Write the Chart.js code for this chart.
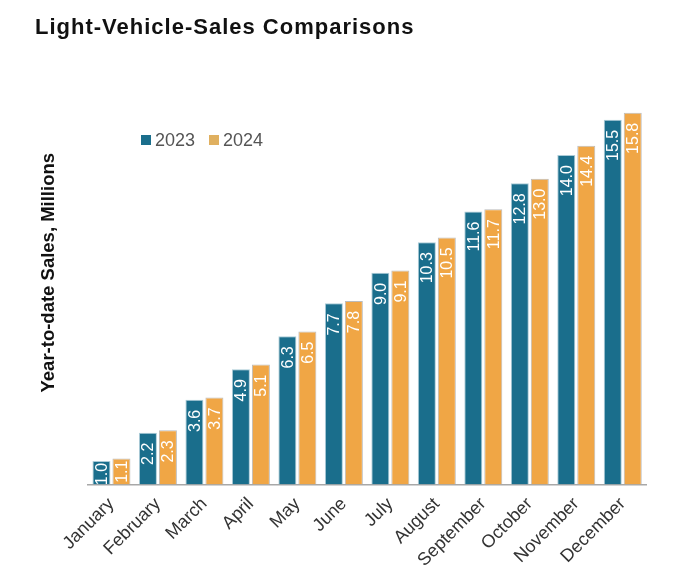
<!DOCTYPE html>
<html>
<head>
<meta charset="utf-8">
<script src="https://cdn.jsdelivr.net/npm/chart.js@4/dist/chart.umd.min.js"></script>
<style>
  html, body { margin: 0; padding: 0; background: #fff; }
  #wrap { position: relative; width: 700px; height: 582px; overflow: hidden; }
  #title { position: absolute; left: 35px; top: 14px; font-family: "Liberation Sans", Arial, sans-serif; font-weight: bold; font-size: 22px; letter-spacing: 1px; color: #111; white-space: nowrap; }
  #legend { position: absolute; left: 141px; top: 130px; font-family: "Liberation Sans", Arial, sans-serif; font-size: 18px; color: #555; white-space: nowrap; }
  .item { display: inline-block; margin-right: 14px; }
  .sw { display: inline-block; width: 10px; height: 10px; margin-right: 4px; vertical-align: 1px; }
  #c { position: absolute; left: 0; top: 0; }
</style>
</head>
<body>
<div id="wrap">
  <canvas id="c" width="700" height="582"></canvas>
  <div id="title">Light-Vehicle-Sales Comparisons</div>
  <div id="legend">
    <span class="item"><span class="sw" style="background:#1a6e8c"></span>2023</span><span class="item"><span class="sw" style="background:#e0b060"></span>2024</span>
  </div>
</div>
<script>
const months = ["January","February","March","April","May","June","July","August","September","October","November","December"];
const sales2023 = [1.0, 2.2, 3.6, 4.9, 6.3, 7.7, 9.0, 10.3, 11.6, 12.8, 14.0, 15.5];
const sales2024 = [1.1, 2.3, 3.7, 5.1, 6.5, 7.8, 9.1, 10.5, 11.7, 13.0, 14.4, 15.8];
const seriesNames = ["2023", "2024"];

const valueLabels = {
  id: 'valueLabels',
  afterDatasetsDraw(chart) {
    const ctx = chart.ctx;
    ctx.save();
    ctx.font = '16px "Liberation Sans", Arial, sans-serif';
    ctx.fillStyle = '#ffffff';
    ctx.textBaseline = 'middle';
    ctx.textAlign = 'right';
    chart.data.datasets.forEach((ds, di) => {
      const meta = chart.getDatasetMeta(di);
      meta.data.forEach((bar, i) => {
        const txt = ds.data[i].toFixed(1);
        const w = ctx.measureText(txt).width;
        const h = bar.base - bar.y;
        let off = 10;
        if (h < w + 2 * off) off = Math.max(2, (h - w) / 2);
        ctx.save();
        ctx.translate(bar.x, bar.y + off);
        ctx.rotate(-Math.PI / 2);
        ctx.fillText(txt, 0, 1);
        ctx.restore();
      });
    });
    ctx.restore();
  }
};

new Chart(document.getElementById('c'), {
  type: 'bar',
  data: {
    labels: months,
    datasets: [
      { label: seriesNames[0], data: sales2023, backgroundColor: '#1a6e8c', borderColor: 'rgba(150,190,205,0.8)', borderWidth: 1, categoryPercentage: 0.86, barPercentage: 0.9 },
      { label: seriesNames[1], data: sales2024, backgroundColor: '#f0a645', borderColor: 'rgba(170,170,170,0.8)', borderWidth: 1, categoryPercentage: 0.86, barPercentage: 0.9 }
    ]
  },
  options: {
    responsive: false,
    animation: false,
    devicePixelRatio: 1,
    layout: { padding: { left: 34, right: 54, top: 61, bottom: 2 } },
    plugins: { legend: { display: false }, tooltip: { enabled: false } },
    scales: {
      x: {
        grid: { display: false, drawTicks: false },
        border: { display: true, color: '#a8a8a8', width: 1.5 },
        ticks: { minRotation: 45, maxRotation: 45, padding: 9, color: '#333', font: { family: '"Liberation Sans", Arial, sans-serif', size: 18 } }
      },
      y: {
        min: 0, max: 18,
        grid: { display: false, drawTicks: false },
        border: { display: false },
        ticks: { display: false },
        title: { display: true, text: 'Year-to-date Sales, Millions', color: '#111', padding: { top: 4, bottom: 28 }, font: { family: '"Liberation Sans", Arial, sans-serif', size: 18.5, weight: 'bold' } }
      }
    }
  },
  plugins: [valueLabels]
});
</script>
</body>
</html>
